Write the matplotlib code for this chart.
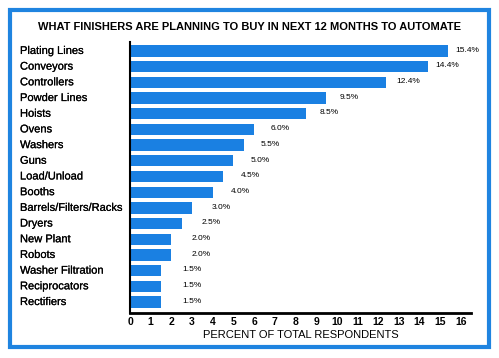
import matplotlib
matplotlib.use("Agg")
import matplotlib.pyplot as plt
from matplotlib.patches import Rectangle
from matplotlib.transforms import blended_transform_factory
import matplotlib.patheffects as pe

plt.rcParams['font.family'] = ['Liberation Sans', 'DejaVu Sans']

categories = ["Plating Lines", "Conveyors", "Controllers", "Powder Lines", "Hoists",
              "Ovens", "Washers", "Guns", "Load/Unload", "Booths",
              "Barrels/Filters/Racks", "Dryers", "New Plant", "Robots",
              "Washer Filtration", "Reciprocators", "Rectifiers"]
values = [15.4, 14.4, 12.4, 9.5, 8.5, 6.0, 5.5, 5.0, 4.5, 4.0, 3.0, 2.5, 2.0, 2.0, 1.5, 1.5, 1.5]
ticks = list(range(0, 17))

W, H = 499, 358
fig = plt.figure(figsize=(W / 100, H / 100), dpi=100)
fig.patch.set_facecolor("white")

# blue frame round the whole chart
fig.patches.append(Rectangle((10 / W, 1 - 347 / H), 479 / W, 337 / H,
                             transform=fig.transFigure, fill=False,
                             edgecolor="#1f84e0", linewidth=3))

ax = fig.add_axes([130 / W, 1 - 313 / H, 341 / W, 271 / H])
y = list(range(len(categories)))
ax.barh(y, values, height=0.72, color="#1a80e2")

# value labels drift a little closer to the bar end as the bars grow
for yi, v in zip(y, values):
    ax.text(v + 1.1 - 0.05 * v, yi - 0.05, f"{v:.1f}%", va="center", ha="left",
            fontsize=6)

ax.set_xlim(0, 16.5)
ax.set_ylim(16.7, -0.57)
ax.set_xticks(ticks)
ax.set_xticklabels([str(t) for t in ticks], fontsize=7.5, fontweight="bold")
ax.tick_params(axis="x", length=0, pad=3)
ax.set_yticks([])

trans = blended_transform_factory(fig.transFigure, ax.transData)
semi = [pe.withStroke(linewidth=0.15, foreground="black")]
for yi, c in zip(y, categories):
    ax.text(20 / W, yi, c, transform=trans, va="center", ha="left",
            fontsize=8, path_effects=semi)

for s in ["top", "right"]:
    ax.spines[s].set_visible(False)
ax.spines["left"].set_linewidth(1.5)
ax.spines["bottom"].set_linewidth(2)
ax.set_xlabel("PERCENT OF TOTAL RESPONDENTS", fontsize=8, labelpad=2)

fig.text(249 / W, 1 - 27 / H, "WHAT FINISHERS ARE PLANNING TO BUY IN NEXT 12 MONTHS TO AUTOMATE",
         ha="center", va="center", fontsize=8, fontweight="bold")

fig.savefig("out.png", dpi=100)
